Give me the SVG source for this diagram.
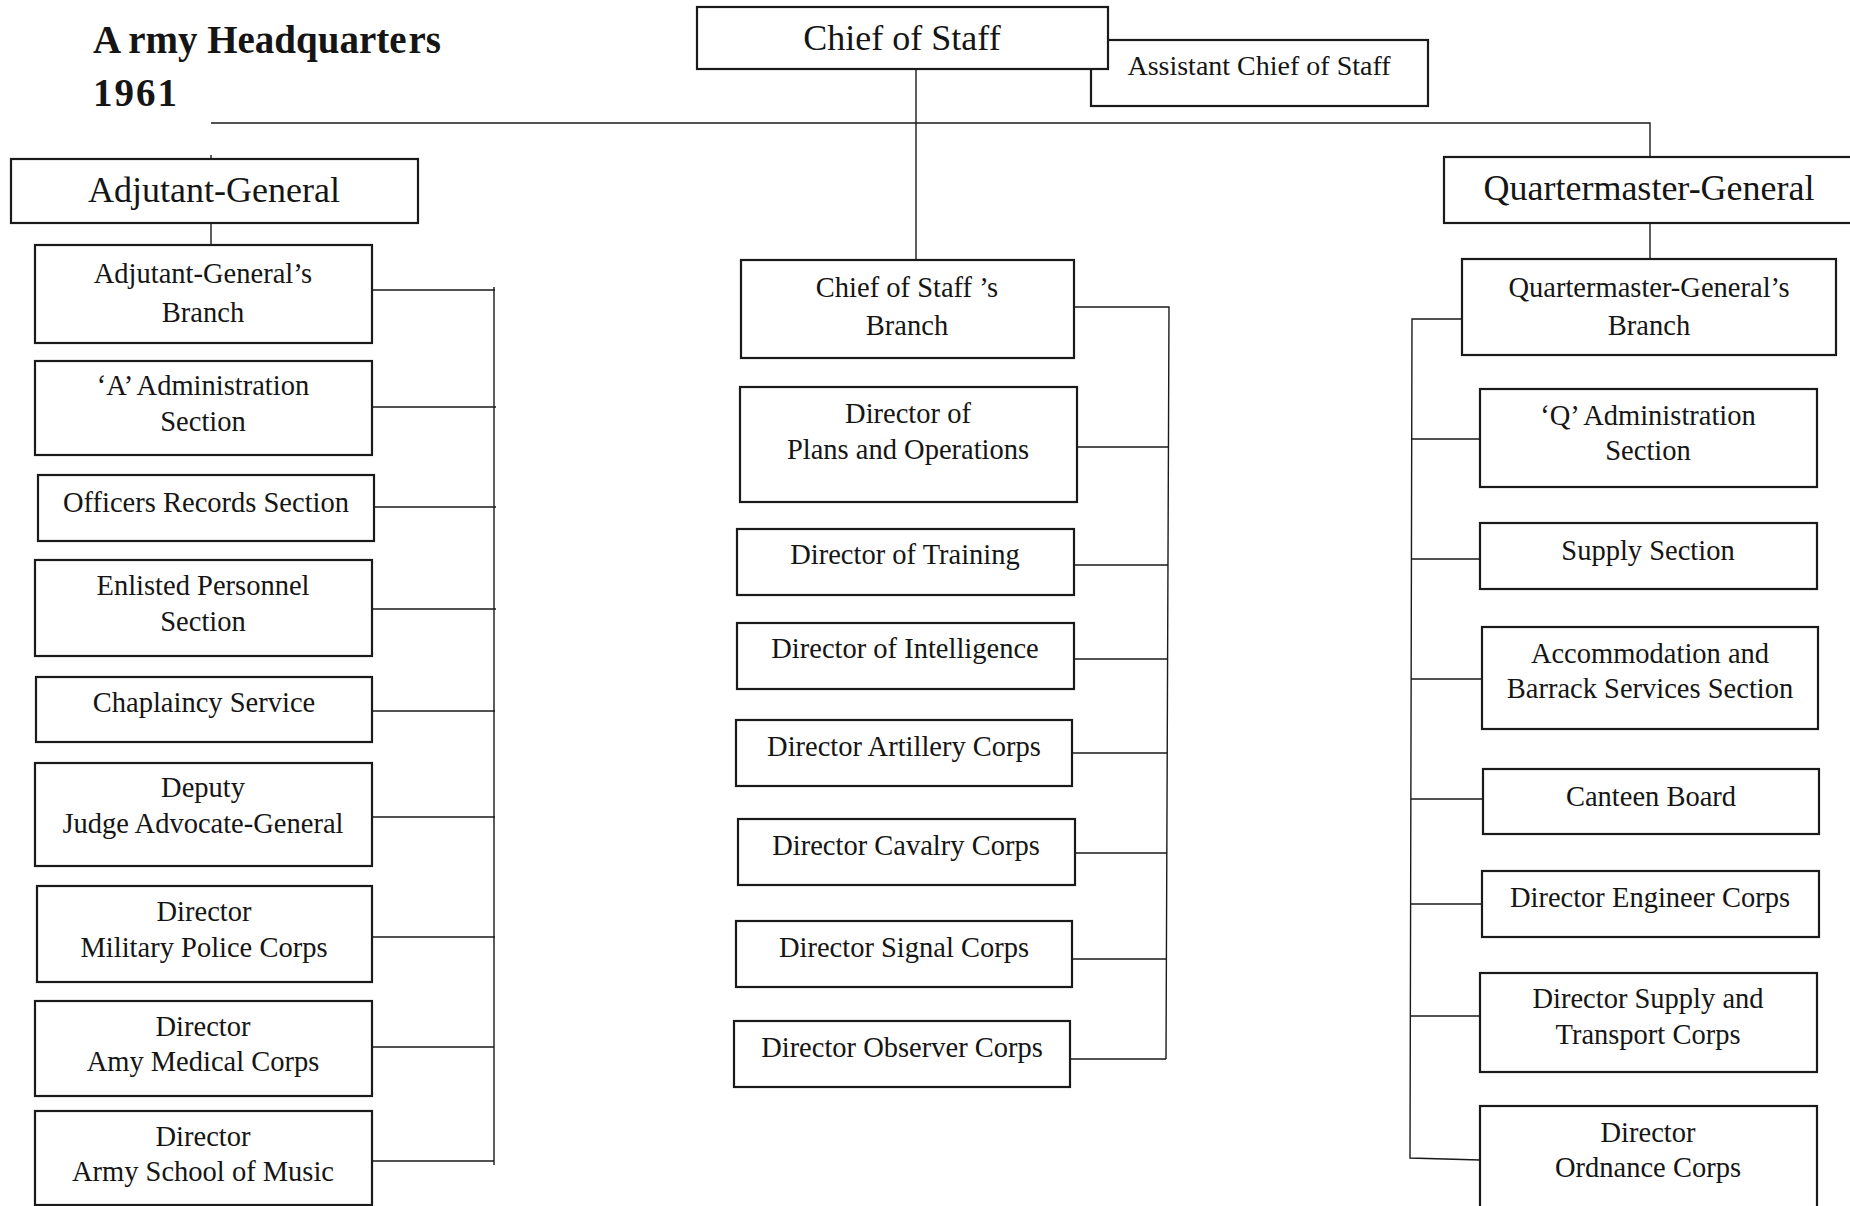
<svg xmlns="http://www.w3.org/2000/svg" width="1850" height="1206" viewBox="0 0 1850 1206">
<style>
.box{fill:#fff;stroke:#1a1a1a;stroke-width:2.2}
.c{fill:none;stroke:#1a1a1a;stroke-width:1.4}
text{font-family:"Liberation Serif","Times New Roman",serif;fill:#151515;text-anchor:middle}
.t{font-size:28.5px}
.h{font-size:36px}
.title{font-size:39px;font-weight:bold;text-anchor:start}
</style>
<rect width="1850" height="1206" fill="#fff"/>
<text class="title" x="93" y="53"><tspan>A</tspan><tspan dx="7">rmy Headquarte</tspan><tspan dx="2">rs</tspan></text>
<text class="title" x="93" y="106" letter-spacing="2">1961</text>

<g id="connectors">
<path class="c" d="M211 123H1650V157"/>
<path class="c" d="M916 69V260"/>
<path class="c" d="M211 155V159"/>
<path class="c" d="M211 223V245"/>
<path class="c" d="M1650 223V259"/>
<path class="c" d="M372 290H495M494 287V1165M372 407H496M374 507H496M372 609H496M372 711H495M372 817H495M372 937H495M372 1047H494M372 1161H494"/>
<path class="c" d="M1074 307H1169L1166 1059M1077 447H1169M1074 565H1168M1074 659H1168M1072 753H1167M1075 853H1167M1072 959H1166M1070 1059H1166"/>
<path class="c" d="M1462 319H1412L1410 1158L1480 1160M1480 439H1412M1480 559H1412M1482 679H1411M1483 799H1411M1482 904H1411M1480 1016H1411"/>
</g>

<g id="assistant-chief-of-staff"><rect class="box" x="1091" y="40" width="337" height="66"/><text style="font-size:28px" x="1259" y="75">Assistant Chief of Staff</text></g>
<g id="chief-of-staff"><rect class="box" x="697" y="7" width="411" height="62"/><text class="h" x="902" y="50">Chief of Staff</text></g>

<g id="adjutant-general"><rect class="box" x="11" y="159" width="407" height="64"/><text class="h" x="214" y="202">Adjutant-General</text></g>
<g id="quartermaster-general"><rect class="box" x="1444" y="157" width="420" height="66"/><text class="h" x="1649" y="200">Quartermaster-General</text></g>

<g id="ag-branch"><rect class="box" x="35" y="245" width="337" height="98"/><text class="t" x="203" y="283">Adjutant-General’s</text><text class="t" x="203" y="322">Branch</text></g>
<g id="a-admin"><rect class="box" x="35" y="361" width="337" height="94"/><text class="t" x="203" y="395">‘A’ Administration</text><text class="t" x="203" y="431">Section</text></g>
<g id="officers-records"><rect class="box" x="38" y="475" width="336" height="66"/><text class="t" x="206" y="512">Officers Records Section</text></g>
<g id="enlisted-personnel"><rect class="box" x="35" y="560" width="337" height="96"/><text class="t" x="203" y="595">Enlisted Personnel</text><text class="t" x="203" y="631">Section</text></g>
<g id="chaplaincy"><rect class="box" x="36" y="677" width="336" height="65"/><text class="t" x="204" y="712">Chaplaincy Service</text></g>
<g id="deputy-jag"><rect class="box" x="35" y="763" width="337" height="103"/><text class="t" x="203" y="797">Deputy</text><text class="t" x="203" y="833">Judge Advocate-General</text></g>
<g id="military-police"><rect class="box" x="37" y="886" width="335" height="96"/><text class="t" x="204" y="921">Director</text><text class="t" x="204" y="957">Military Police Corps</text></g>
<g id="medical-corps"><rect class="box" x="35" y="1001" width="337" height="95"/><text class="t" x="203" y="1036">Director</text><text class="t" x="203" y="1071">Amy Medical Corps</text></g>
<g id="school-of-music"><rect class="box" x="35" y="1111" width="337" height="94"/><text class="t" x="203" y="1146">Director</text><text class="t" x="203" y="1181">Army School of Music</text></g>

<g id="cos-branch"><rect class="box" x="741" y="260" width="333" height="98"/><text class="t" x="907" y="297">Chief of Staff ’s</text><text class="t" x="907" y="335">Branch</text></g>
<g id="plans-operations"><rect class="box" x="740" y="387" width="337" height="115"/><text class="t" x="908" y="423">Director of</text><text class="t" x="908" y="459">Plans and Operations</text></g>
<g id="training"><rect class="box" x="737" y="529" width="337" height="66"/><text class="t" x="905" y="564">Director of Training</text></g>
<g id="intelligence"><rect class="box" x="737" y="623" width="337" height="66"/><text class="t" x="905" y="658">Director of Intelligence</text></g>
<g id="artillery"><rect class="box" x="736" y="720" width="336" height="66"/><text class="t" x="904" y="756">Director Artillery Corps</text></g>
<g id="cavalry"><rect class="box" x="738" y="819" width="337" height="66"/><text class="t" x="906" y="855">Director Cavalry Corps</text></g>
<g id="signal"><rect class="box" x="736" y="921" width="336" height="66"/><text class="t" x="904" y="957">Director Signal Corps</text></g>
<g id="observer"><rect class="box" x="734" y="1021" width="336" height="66"/><text class="t" x="902" y="1057">Director Observer Corps</text></g>

<g id="qmg-branch"><rect class="box" x="1462" y="259" width="374" height="96"/><text class="t" x="1649" y="297">Quartermaster-General’s</text><text class="t" x="1649" y="335">Branch</text></g>
<g id="q-admin"><rect class="box" x="1480" y="389" width="337" height="98"/><text class="t" x="1648" y="425">‘Q’ Administration</text><text class="t" x="1648" y="460">Section</text></g>
<g id="supply-section"><rect class="box" x="1480" y="523" width="337" height="66"/><text class="t" x="1648" y="560">Supply Section</text></g>
<g id="accommodation"><rect class="box" x="1482" y="627" width="336" height="102"/><text class="t" x="1650" y="663">Accommodation and</text><text class="t" x="1650" y="698">Barrack Services Section</text></g>
<g id="canteen"><rect class="box" x="1483" y="769" width="336" height="65"/><text class="t" x="1651" y="806">Canteen Board</text></g>
<g id="engineer"><rect class="box" x="1482" y="871" width="337" height="66"/><text class="t" x="1650" y="907">Director Engineer Corps</text></g>
<g id="supply-transport"><rect class="box" x="1480" y="973" width="337" height="99"/><text class="t" x="1648" y="1008">Director Supply and</text><text class="t" x="1648" y="1044">Transport Corps</text></g>
<g id="ordnance"><rect class="box" x="1480" y="1106" width="337" height="104"/><text class="t" x="1648" y="1142">Director</text><text class="t" x="1648" y="1177">Ordnance Corps</text></g>
</svg>
